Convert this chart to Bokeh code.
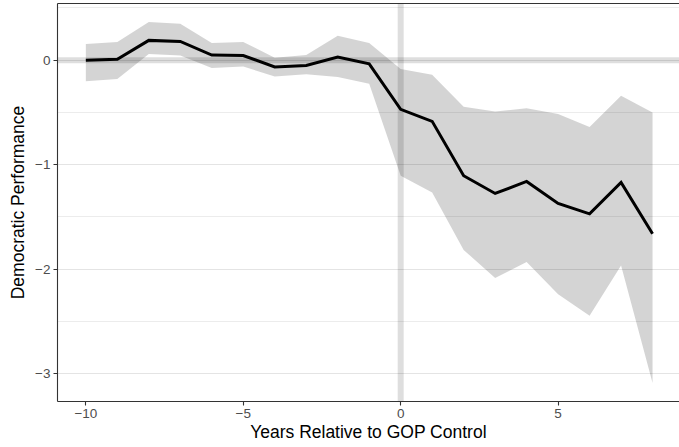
from bokeh.plotting import figure
from bokeh.models import ColumnDataSource, FixedTicker, LinearAxis, Span
from bokeh.embed import file_html
from bokeh.resources import INLINE

# Event-study estimates: Democratic performance by years relative to GOP control
years = list(range(-10, 9))
estimate = [0.00, 0.01, 0.19, 0.18, 0.05, 0.045, -0.065, -0.05, 0.03, -0.035,
            -0.47, -0.585, -1.105, -1.275, -1.16, -1.37, -1.47, -1.17, -1.66]
ci_upper = [0.155, 0.175, 0.365, 0.35, 0.165, 0.175, 0.025, 0.05, 0.235, 0.165,
            -0.085, -0.14, -0.445, -0.49, -0.46, -0.515, -0.64, -0.34, -0.50]
ci_lower = [-0.20, -0.18, 0.06, 0.045, -0.075, -0.06, -0.155, -0.135, -0.16, -0.225,
            -1.105, -1.265, -1.815, -2.085, -1.93, -2.24, -2.445, -1.965, -3.09]

x_ticks = [-10, -5, 0, 5]
x_minor = [-7.5, -2.5, 2.5, 7.5]
y_ticks = [-3, -2, -1, 0]
y_minor = [-2.5, -1.5, -0.5, 0.5]

FONT = "Liberation Sans"
GRID = "#e4e4e4"
BORDER = "#333333"


def minus_label(v):
    return ("\u2212" + str(abs(v))) if v < 0 else str(v)


src = ColumnDataSource(dict(x=years, y=estimate, lo=ci_lower, hi=ci_upper))

p = figure(width=679, height=447, output_backend="svg", toolbar_location=None,
           x_range=(-10.9, 8.856), y_range=(-3.266, 0.543),
           min_border_left=57, min_border_right=0, min_border_top=3,
           min_border_bottom=46)
p.outline_line_color = None
p.background_fill_color = "white"
p.border_fill_color = "white"

# confidence band
p.varea(x="x", y1="lo", y2="hi", source=src, fill_color="black", fill_alpha=0.17)

# reference lines at zero
p.add_layout(Span(location=0, dimension="width", line_color="black",
                  line_alpha=0.13, line_width=6))
p.add_layout(Span(location=0, dimension="height", line_color="black",
                  line_alpha=0.13, line_width=6))

# point estimates
p.line(x="x", y="y", source=src, line_color="black", line_width=3,
       line_join="miter")

# axes
p.xaxis.ticker = FixedTicker(ticks=x_ticks, minor_ticks=x_minor)
p.yaxis.ticker = FixedTicker(ticks=y_ticks, minor_ticks=y_minor)
p.xaxis.major_label_overrides = {t: minus_label(t) for t in x_ticks}
p.yaxis.major_label_overrides = {t: minus_label(t) for t in y_ticks}
p.xaxis.axis_label = "Years Relative to GOP Control"
p.yaxis.axis_label = "Democratic Performance"

for ax in (p.xaxis[0], p.yaxis[0]):
    ax.axis_line_color = BORDER
    ax.axis_line_width = 1.1
    ax.major_tick_line_color = BORDER
    ax.major_tick_line_width = 1.1
    ax.major_tick_in = 0
    ax.major_tick_out = 4
    ax.minor_tick_line_color = None
    ax.major_label_text_font = FONT
    ax.major_label_text_font_size = "13.5px"
    ax.major_label_text_color = "#4d4d4d"
    ax.major_label_standoff = 3
    ax.axis_label_text_font = FONT
    ax.axis_label_text_font_size = "17.5px"
    ax.axis_label_text_font_style = "normal"
    ax.axis_label_text_color = "black"

p.xaxis.axis_label_standoff = 1
p.yaxis.axis_label_standoff = 4

# top edge of the panel border
top = LinearAxis(ticker=FixedTicker(ticks=[]), axis_line_color=BORDER,
                 axis_line_width=1.1, major_tick_line_color=None,
                 minor_tick_line_color=None, major_label_text_font_size="0px",
                 major_label_standoff=0, major_tick_out=0, major_tick_in=0)
p.add_layout(top, "above")

# grid
for g in (p.xgrid[0], p.ygrid[0]):
    g.grid_line_color = GRID
    g.grid_line_width = 1.2
    g.minor_grid_line_color = GRID
    g.minor_grid_line_width = 0.7
p.xgrid.ticker = p.xaxis[0].ticker
p.ygrid.ticker = p.yaxis[0].ticker

open("out.html", "w").write(file_html(p, INLINE))
